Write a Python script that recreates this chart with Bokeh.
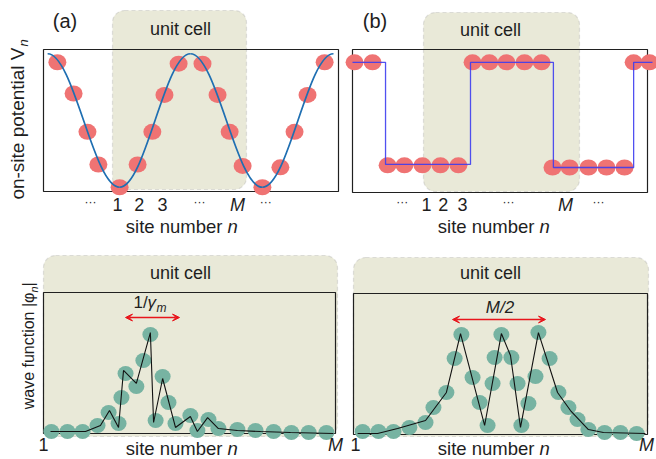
import math
from bokeh.plotting import figure
from bokeh.models import Range1d, BoxAnnotation, Arrow, VeeHead
from bokeh.embed import file_html
from bokeh.resources import INLINE
from bokeh.core.properties import value

W, H = 656, 459

# ------------------------------------------------------------------ data
# x in % of each panel's width, values as fraction of the panel's height
# (a) cosine on-site potential
cos_ext_x = [1.4, 25.8, 49.8, 74.2, 98.3]
cos_ext_v = [0.97, 0.03, 0.97, 0.03, 0.97]
a_x = [4.7, 10.2, 14.9, 18.6, 25.8, 31.9, 36.9, 41.0, 45.8,
       53.9, 59.0, 63.1, 67.5, 74.2, 80.3, 85.1, 89.5, 95.3]
a_v = [0.91, 0.69, 0.42, 0.19, 0.03, 0.19, 0.42, 0.68, 0.90,
       0.90, 0.68, 0.42, 0.18, 0.03, 0.17, 0.42, 0.68, 0.91]
a_tick_pos = [15.9, 25.1, 32.5, 40.3, 52.9, 65.8, 75.3]
a_tick_lab = ["···", "1", "2", "3", "···", "M", "···"]

# (b) square-wave on-site potential
b_x = [0.7, 6.8, 11.9, 17.6, 23.7, 29.8, 35.9, 40.7, 46.4, 52.2,
       58.3, 64.1, 67.8, 73.6, 80.0, 86.1, 92.2, 95.3, 100.7]
b_v = [0.91, 0.91, 0.19, 0.19, 0.19, 0.19, 0.19, 0.91, 0.91, 0.91,
       0.91, 0.91, 0.175, 0.175, 0.175, 0.175, 0.175, 0.91, 0.91]
step_x = [0.0, 11.2, 40.0, 68.1, 95.3, 101.7]
step_v = [0.91, 0.196, 0.91, 0.175, 0.91, 0.91]
b_tick_pos = [16.9, 25.1, 30.8, 37.3, 52.9, 72.2, 83.4]
b_tick_lab = ["···", "1", "2", "3", "···", "M", "···"]

# (c) wave function, localized state
c_x = [2.7, 8.2, 13.4, 18.5, 22.3, 25.7, 26.7, 28.1, 31.8, 34.2, 36.6, 38.4, 40.8,
       42.8, 45.2, 50.3, 52.7, 56.5, 59.9, 66.4, 72.6, 78.8, 84.9, 90.8, 96.9]
c_v = [0.014, 0.014, 0.014, 0.057, 0.149, 0.071, 0.255, 0.426, 0.333, 0.518, 0.702, 0.092, 0.404,
       0.220, 0.071, 0.128, 0.021, 0.099, 0.035, 0.028, 0.021, 0.014, 0.007, 0.007, 0.007]
c_lx = [2.4, 14.4, 19.5, 22.6, 25.7, 27.4, 31.8, 36.6, 37.7, 40.8,
        45.2, 50.3, 52.7, 56.2, 59.9, 66.4, 74.3, 84.6, 99.3]
c_lv = [0.014, 0.014, 0.057, 0.163, 0.043, 0.447, 0.355, 0.716, 0.078, 0.390,
        0.043, 0.121, 0.014, 0.113, 0.035, 0.021, 0.014, 0.007, 0.0]

# (d) wave function, square-wave case
d_x = [3.1, 8.5, 13.6, 19.0, 24.5, 27.2, 31.6, 34.4, 36.7, 40.5, 42.9, 45.6, 47.3, 48.0, 50.3,
       53.7, 55.8, 57.1, 59.5, 61.9, 62.9, 66.7, 69.7, 73.1, 76.2, 79.9, 85.4, 90.8, 96.3]
d_v = [0.021, 0.021, 0.021, 0.050, 0.085, 0.191, 0.298, 0.539, 0.709, 0.404, 0.227, 0.064, 0.362, 0.546, 0.709,
       0.546, 0.362, 0.064, 0.220, 0.411, 0.723, 0.539, 0.298, 0.191, 0.106, 0.035, 0.014, 0.014, 0.007]
d_lx = [1.4, 8.2, 15.0, 24.5, 31.6, 36.4, 44.6, 50.3, 53.4, 56.8, 62.9, 69.4, 73.8, 79.9, 85.0, 99.3]
d_lv = [0.007, 0.007, 0.043, 0.099, 0.298, 0.716, 0.064, 0.716, 0.560, 0.050, 0.723, 0.298, 0.170, 0.035, 0.014, 0.007]

# ------------------------------------------------------------------ layout (pixels)
FRAMES = {"a": (43, 338, 49, 191), "b": (352, 647, 49, 192),
          "c": (43, 335, 292, 433), "d": (353, 647, 293, 434)}
CELLS = {"a": (112, 246, 10, 189), "b": (423, 579, 12, 191),
         "c": (43, 337, 255, 436), "d": (353, 648, 257, 436)}

FONT = value("Liberation Sans")
TXT = "#1e1e1e"
RED = "#ef7373"
TEAL = "#77b3a2"
BEIGE = "#e9e9d8"

p = figure(width=W, height=H, x_range=Range1d(0, W), y_range=Range1d(H, 0),
           x_axis_type=None, y_axis_type=None, toolbar_location=None,
           output_backend="svg", min_border=0, outline_line_color=None)
p.background_fill_color = "white"

xr, yr = {}, {}
for k, (L, R, T, B) in FRAMES.items():
    sx = 100.0 / (R - L)
    xr[k] = Range1d(start=-L * sx, end=(W - L) * sx)
    sy = 1.0 / (B - T)
    yr[k] = Range1d(start=(B - H) * sy, end=B * sy)
p.extra_x_ranges = xr
p.extra_y_ranges = yr

# unit cell boxes
for k, (l, r, t, b) in CELLS.items():
    p.add_layout(BoxAnnotation(left=l, right=r, top=t, bottom=b, fill_color=BEIGE, fill_alpha=1.0,
                               line_color="#a3a3a3", line_dash="4 3", line_width=1.2,
                               border_radius=12, level="underlay"))

# frames
for k in FRAMES:
    p.quad(left=[0], right=[100], bottom=[0], top=[1], fill_alpha=0, line_color="#202020",
           line_width=1.2, x_range_name=k, y_range_name=k)

# (a)
p.ellipse(x=a_x, y=a_v, width=18, height=16, width_units="screen", height_units="screen",
          fill_color=RED, line_color=None, x_range_name="a", y_range_name="a")
kk = (math.pi - 2) / math.pi
x0 = cos_ext_x[:-1]; x1 = cos_ext_x[1:]; y0 = cos_ext_v[:-1]; y1 = cos_ext_v[1:]
p.bezier(x0=x0, y0=y0, x1=x1, y1=y1,
         cx0=[a + kk * (b - a) for a, b in zip(x0, x1)], cy0=y0,
         cx1=[b - kk * (b - a) for a, b in zip(x0, x1)], cy1=y1,
         line_color="#1f6fb2", line_width=1.7, x_range_name="a", y_range_name="a")

# (b)
p.ellipse(x=b_x, y=b_v, width=18, height=16, width_units="screen", height_units="screen",
          fill_color=RED, line_color=None, x_range_name="b", y_range_name="b")
p.step(x=step_x, y=step_v, mode="after", line_color="#3d3df0", line_width=1.3, line_alpha=0.9,
       x_range_name="b", y_range_name="b")

# (c), (d)
for k, xs, vs, lx, lv in (("c", c_x, c_v, c_lx, c_lv), ("d", d_x, d_v, d_lx, d_lv)):
    p.ellipse(x=xs, y=vs, width=16, height=15, width_units="screen", height_units="screen",
              fill_color=TEAL, line_color=None, x_range_name=k, y_range_name=k)
    p.line(x=lx, y=lv, line_color="#111111", line_width=1.1, x_range_name=k, y_range_name=k)

SHIFT = 0.37  # renderer places the alphabetic baseline lower; compensate (fraction of size)


def txt(x, y, s, size, align="left", style="normal", angle=0.0, rn="default"):
    kw = {}
    if rn != "default":
        kw = dict(x_range_name=rn)
    d = SHIFT * size
    if angle == 0.0:
        y = y - d
    else:
        x = x - d
    p.text(x=[x], y=[y], text=[s], text_font=FONT, text_font_size=f"{size}px",
           text_font_style=style, text_align=align, text_baseline="alphabetic",
           text_color=TXT, angle=angle, **kw)


# panel letters and unit cell titles
txt(64.5, 28, "(a)", 20, "center")
txt(374.5, 28, "(b)", 20, "center")
txt(180, 35, "unit cell", 18, "center")
txt(490, 36, "unit cell", 18, "center")
txt(180, 279, "unit cell", 18, "center")
txt(490, 279, "unit cell", 18, "center")

# tick labels (top panels)
for k, pos, lab in (("a", a_tick_pos, a_tick_lab), ("b", b_tick_pos, b_tick_lab)):
    for xp, s in zip(pos, lab):
        if s == "···":
            txt(xp, 206, s, 12, "center", rn=k)
        else:
            txt(xp, 211, s, 18, "center", "italic" if s == "M" else "normal", rn=k)

# tick labels (bottom panels)
txt(0, 451, "1", 18, "center", rn="c")
txt(100, 451, "M", 18, "center", "italic", rn="c")
txt(0.7, 451, "1", 18, "center", rn="d")
txt(99.7, 451, "M", 18, "center", "italic", rn="d")

# x titles
for cx, by in ((182, 233), (494, 233), (182, 455), (494, 455)):
    txt(cx + 40, by, "site number", 18.5, "right")
    txt(cx + 45, by, "n", 18.5, "left", "italic")

# y titles (rotated)
ang = math.pi / 2
txt(24, 47, "on-site potential V", 19, "right", angle=ang)
txt(28, 46, "n", 13, "left", "italic", angle=ang)
txt(34, 292, "wave function |φ", 16, "right", angle=ang)
txt(37.5, 292, "n", 11, "left", "italic", angle=ang)
txt(34, 286, "|", 16, "left", angle=ang)

# arrows and their labels
for xs, xe, ya in ((125, 179, 317), (452, 545, 319)):
    p.add_layout(Arrow(x_start=xs, y_start=ya, x_end=xe, y_end=ya, line_color="#e8141b", line_width=1.3,
                       start=VeeHead(size=7, fill_color="#e8141b", line_color="#e8141b"),
                       end=VeeHead(size=7, fill_color="#e8141b", line_color="#e8141b")))
txt(133, 308, "1/", 17, "left")
txt(147, 308, "γ", 17, "left", "italic")
txt(156, 312, "m", 12, "left", "italic")
txt(499.5, 313, "M/2", 17, "center", "italic")

open("out.html", "w").write(file_html(p, INLINE))
